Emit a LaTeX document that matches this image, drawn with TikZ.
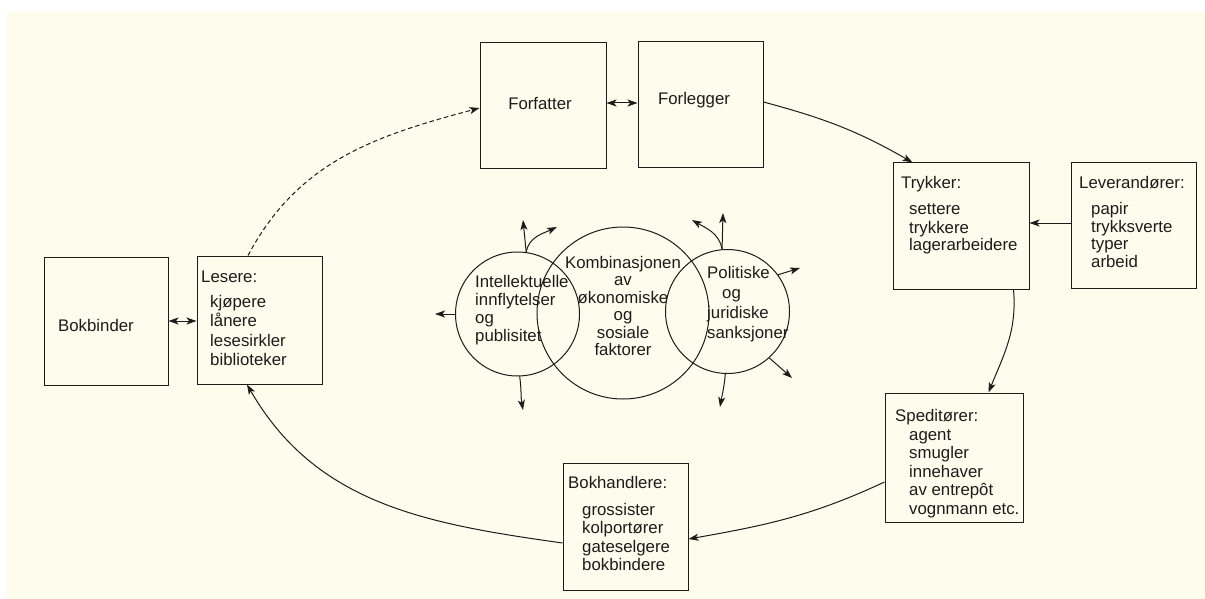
\documentclass[tikz,border=0pt]{standalone}
\usepackage{fontspec}
\setmainfont{Liberation Sans}
\usetikzlibrary{arrows.meta}
\definecolor{paper}{RGB}{253,252,237}
\definecolor{ink}{RGB}{30,28,26}
\newcommand\mystackL[2]{\vtop{\baselineskip=#1\lineskiplimit=-50pt\lineskip=0pt\halign{##\hfil\cr#2\crcr}}}
\newcommand\mystackC[2]{\vtop{\baselineskip=#1\lineskiplimit=-50pt\lineskip=0pt\halign{\hfil##\hfil\cr#2\crcr}}}
\begin{document}
\begin{tikzpicture}[x=1pt,y=-1pt,
  box/.style={draw=ink, line width=1pt, rectangle, inner sep=0pt},
  txt/.style={inner sep=0pt, text=ink, font=\fontsize{16.8}{18}\selectfont},
  circ/.style={draw=ink, line width=1pt, circle, inner sep=0pt},
  tipx/.tip={Stealth[length=10pt,width=7pt,inset=2.5pt]},
  arr/.style={draw=ink, line width=1pt, -tipx},
  darr/.style={draw=ink, line width=1pt, tipx-tipx},
  dashline/.style={dash pattern=on 4.5pt off 3pt}
]
\fill[white] (0,0) rectangle (1205,599);
\fill[paper] (7,12) rectangle (1205,599);
\useasboundingbox (0,0) rectangle (1205,599);

% boxes
\node[box, minimum width=124pt, minimum height=128pt] (bb) at (106,321) {};
\node[box, minimum width=125pt, minimum height=128pt] (le) at (259.5,320) {};
\node[box, minimum width=126pt, minimum height=126pt] (fa) at (543,106) {};
\node[box, minimum width=125pt, minimum height=126pt] (fl) at (700.5,105) {};
\node[box, minimum width=136pt, minimum height=126pt] (tr) at (961,226) {};
\node[box, minimum width=125pt, minimum height=125pt] (lv) at (1133.5,225.5) {};
\node[box, minimum width=138pt, minimum height=129pt] (sp) at (954,457.5) {};
\node[box, minimum width=125pt, minimum height=127pt] (bh) at (625.5,526.5) {};

% box texts
\node[txt, anchor=base] (bbt) at (96,331) {Bokbinder};
\node[txt, anchor=base] (fat) at (540,110) {Forfatter};
\node[txt, anchor=base] (flt) at (694,105) {Forlegger};
\node[txt, anchor=base west] (let) at (201,282) {\mystackL{19.5pt}{Lesere:\cr\noalign{\vskip5.5pt}\hspace{9pt}kjøpere\cr\hspace{9pt}lånere\cr\hspace{9pt}lesesirkler\cr\hspace{9pt}biblioteker}};
\node[txt, anchor=base west] (trt) at (901,189) {\mystackL{18pt}{Trykker:\cr\noalign{\vskip8pt}\hspace{8pt}settere\cr\hspace{8pt}trykkere\cr\hspace{8pt}lagerarbeidere}};
\node[txt, anchor=base west] (lvt) at (1079,188) {\mystackL{18pt}{Leverandører:\cr\noalign{\vskip8pt}\hspace{12pt}papir\cr\hspace{12pt}trykksverte\cr\hspace{12pt}typer\cr\hspace{12pt}arbeid}};
\node[txt, anchor=base west] (spt) at (895,421) {\mystackL{18.5pt}{Speditører:\cr\noalign{\vskip0.5pt}\hspace{14pt}agent\cr\hspace{14pt}smugler\cr\hspace{14pt}innehaver\cr\hspace{14pt}av entrepôt\cr\hspace{14pt}vognmann etc.}};
\node[txt, anchor=base west] (bht) at (568,488) {\mystackL{18.5pt}{Bokhandlere:\cr\noalign{\vskip8.5pt}\hspace{14pt}grossister\cr\hspace{14pt}kolportører\cr\hspace{14pt}gateselgere\cr\hspace{14pt}bokbindere}};

% circles
\node[circ, minimum size=124pt] (lc) at (517.5,314) {};
\node[circ, minimum size=172pt] (mc) at (623,313) {};
\node[circ, minimum size=124pt] (rc) at (727.5,311.5) {};

\node[txt, anchor=base west] (lct) at (475,287) {\mystackL{18.2pt}{Intellektuelle\cr innflytelser\cr og\cr publisitet}};
\node[txt, anchor=base] (mct) at (623,268) {\mystackC{17.5pt}{Kombinasjonen\cr av\cr økonomiske\cr og\cr sosiale\cr faktorer}};
\node[txt, anchor=base west] (rct) at (707,278) {\mystackL{20pt}{Politiske\cr\hspace{15pt}og\cr juridiske\cr sanksjoner}};

% free ends of circle arrows
\coordinate (l1) at (523,220);
\coordinate (l2) at (557,227);
\coordinate (l3) at (435,314);
\coordinate (l4) at (523,410);
\coordinate (r1) at (723,213);
\coordinate (r2) at (692,220);
\coordinate (r3) at (800,268);
\coordinate (r4) at (792,378);
\coordinate (r5) at (720,407);

\draw[arr] (lc.82) -- (l1);
\draw[arr] (lc.82) to[out=80,in=205] (l2);
\draw[arr] (lc.west) -- (l3);
\draw[arr] (lc.-88) to[out=-82,in=100] (l4);
\draw[arr] (rc.95) -- (r1);
\draw[arr] (rc.95) to[out=100,in=-30] (r2);
\draw[arr] (rc.36) -- (r3);
\draw[arr] (rc.-48) -- (r4);
\draw[arr] (rc.-92) to[out=-95,in=80] (r5);

% ring connectors
\draw[darr] ([yshift=3pt]fa.east) -- ([yshift=3pt]fa.east -| fl.west);
\draw[darr] (bb.east) -- (bb.east -| le.west);
\draw[arr] ([yshift=3pt]fl.east) to[out=-15,in=150] ([xshift=20pt]tr.north west);
\draw[arr] ([yshift=2.5pt]lv.west) -- ([yshift=2.5pt]lv.west -| tr.east);
\draw[arr] ([xshift=-16pt]tr.south east) to[out=-85,in=68] ([xshift=-35pt]sp.north east);
\draw[arr] ([yshift=-24.5pt]sp.west) to[out=205,in=10] ([yshift=-12.5pt]bh.east);
\draw[arr] ([yshift=-16.5pt]bh.west) to[out=172,in=-60] ([xshift=-12.5pt]le.south);
\draw[arr, dashline] ([xshift=-11.5pt]le.north) to[out=62,in=195] ([yshift=-2pt]fa.west);
\end{tikzpicture}
\end{document}
